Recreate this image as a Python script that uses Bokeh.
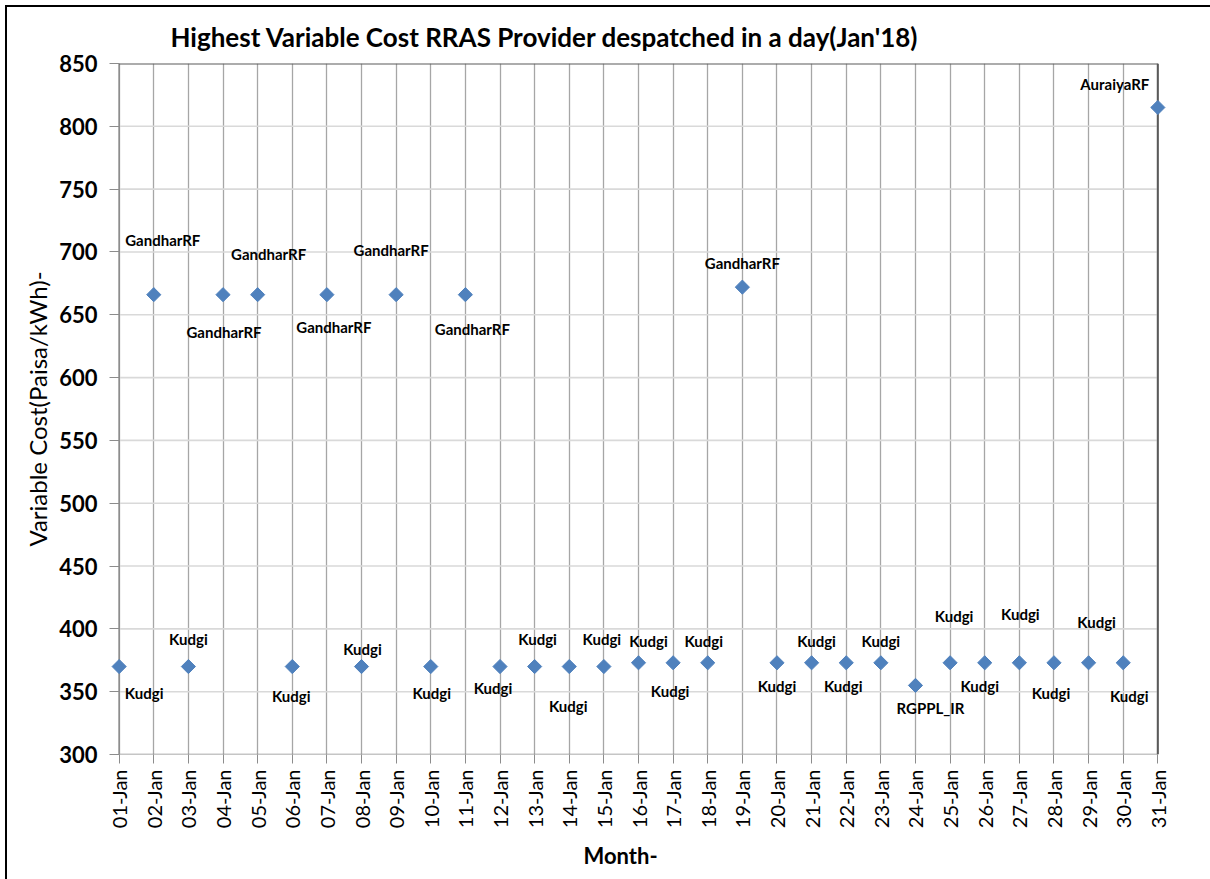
from math import pi
from bokeh.plotting import figure
from bokeh.models import ColumnDataSource, Range1d, FixedTicker, Title
from bokeh.embed import file_html
from bokeh.resources import INLINE
from bokeh.core.properties import value

# ---------------- data ----------------
days = list(range(1, 32))
day_labels = [f"{d:02d}-Jan" for d in days]
cost = [370, 666, 370, 666, 666, 370, 666, 370, 666, 370, 666, 370, 370, 370, 370,
        373, 373, 373, 672, 373, 373, 373, 373, 355, 373, 373, 373, 373, 373, 373, 815]
provider = ["Kudgi", "GandharRF", "Kudgi", "GandharRF", "GandharRF", "Kudgi", "GandharRF",
            "Kudgi", "GandharRF", "Kudgi", "GandharRF", "Kudgi", "Kudgi", "Kudgi", "Kudgi",
            "Kudgi", "Kudgi", "Kudgi", "GandharRF", "Kudgi", "Kudgi", "Kudgi", "Kudgi",
            "RGPPL_IR", "Kudgi", "Kudgi", "Kudgi", "Kudgi", "Kudgi", "Kudgi", "AuraiyaRF"]
y_ticks = [300, 350, 400, 450, 500, 550, 600, 650, 700, 750, 800, 850]

# label placement offsets in screen pixels (style only)
label_dx = [25, 9, 0, 1, 11, -1, 7, 1, -5, 1, 7, -7, 3, -1, -2, 10, -3, -4, 0, 0, 5, -3, 0,
            15, 4, -5, 1, -3, 8, 6, -43]
label_dy = [26, -55, -28, 37, -41, 29, 32, -18, -45, 26, 34, 21, -28, 39, -28, -22, 28, -22,
            -24, 23, -22, 23, -22, 23, -47, 23, -49, 30, -41, 33, -23]

src = ColumnDataSource(dict(day=days, cost=cost, provider=provider, dx=label_dx, dy=label_dy))

pad = 0.25
p = figure(width=1210, height=879, output_backend="svg", toolbar_location=None,
           x_range=Range1d(days[0] - pad, days[-1] + pad),
           y_range=Range1d(y_ticks[0], y_ticks[-1]),
           min_border_left=110, min_border_right=44, min_border_top=63, min_border_bottom=125)
p.outline_line_color = None
p.background_fill_color = "white"
p.border_fill_alpha = 0
p.styles = {"box-shadow": "inset 5px 5px 0 0 white, inset 7px 7px 0 0 black",
            "background-color": "white"}

# title
p.title.text = "Highest Variable  Cost RRAS Provider despatched in a day(Jan'18)"
p.title.text_font = "Lato"
p.title.text_font_style = "bold"
p.title.text_font_size = "26px"
p.title.text_color = "black"
p.title.align = "left"
p.title.offset = 60
p.title.standoff = 22

# x axis
xt = FixedTicker(ticks=days)
p.xaxis.ticker = xt
p.xgrid.ticker = xt
p.xaxis.major_label_overrides = {d: lab for d, lab in zip(days, day_labels)}
p.xaxis.major_label_orientation = pi / 2
p.xaxis.major_label_text_font = "Lato"
p.xaxis.major_label_text_font_size = "20px"
p.xaxis.major_label_text_color = "black"
p.xaxis.major_label_standoff = 6
p.xaxis.axis_line_color = None
p.xaxis.major_tick_line_color = "#8c8c8c"
p.xaxis.major_tick_out = 9
p.xaxis.major_tick_in = 0
p.xaxis.minor_tick_line_color = None

month_title = Title(text="Month-", align="left", offset=473, standoff=17,
                    text_font="Lato", text_font_style="bold", text_font_size="22px",
                    text_color="black")
p.add_layout(month_title, "below")

# y axis
p.yaxis.ticker = FixedTicker(ticks=y_ticks)
p.yaxis.major_label_text_font = "Lato"
p.yaxis.major_label_text_font_style = "bold"
p.yaxis.major_label_text_font_size = "22px"
p.yaxis.major_label_text_color = "black"
p.yaxis.major_label_standoff = 12
p.yaxis.axis_line_color = None
p.yaxis.major_tick_line_color = "#8c8c8c"
p.yaxis.major_tick_in = 9
p.yaxis.major_tick_out = 1
p.yaxis.minor_tick_line_color = None
p.yaxis.axis_label = "Variable Cost(Paisa/kWh)-"
p.yaxis.axis_label_text_font = "Lato"
p.yaxis.axis_label_text_font_style = "normal"
p.yaxis.axis_label_text_font_size = "24px"
p.yaxis.axis_label_text_color = "black"
p.yaxis.axis_label_standoff = 4

# grids
p.xgrid.grid_line_color = "#a6a6a6"
p.xgrid.grid_line_width = 1.3
p.ygrid.grid_line_color = None

# horizontal grid lines between first and last day
inner = y_ticks[1:-1]
p.segment(x0=[days[0]] * len(inner), x1=[days[-1]] * len(inner), y0=inner, y1=inner,
          line_color="#d9d9d9", line_width=1.6)
# frame lines
p.segment(x0=[days[0]], x1=[days[-1]], y0=[y_ticks[0]], y1=[y_ticks[0]],
          line_color="#8c8c8c", line_width=1.6)
p.segment(x0=[days[0]], x1=[days[0]], y0=[y_ticks[0]], y1=[y_ticks[-1]],
          line_color="#8c8c8c", line_width=1.6)
p.segment(x0=[days[0]], x1=[days[-1]], y0=[y_ticks[-1]], y1=[y_ticks[-1]],
          line_color="#5a5a5a", line_width=2)
p.segment(x0=[days[-1]], x1=[days[-1]], y0=[y_ticks[0]], y1=[y_ticks[-1]],
          line_color="#5a5a5a", line_width=2)

# points
p.scatter(x="day", y="cost", source=src, marker="square", size=10, angle=pi / 4,
          fill_color="#4f81bd", line_color="#4f81bd")

# labels
p.text(x="day", y="cost", text="provider", x_offset="dx", y_offset="dy", source=src,
       text_align="center", text_baseline="middle", text_font=value("Lato"),
       text_font_style="bold", text_font_size="15px", text_color="black")

open("out.html", "w").write(file_html(p, INLINE))
